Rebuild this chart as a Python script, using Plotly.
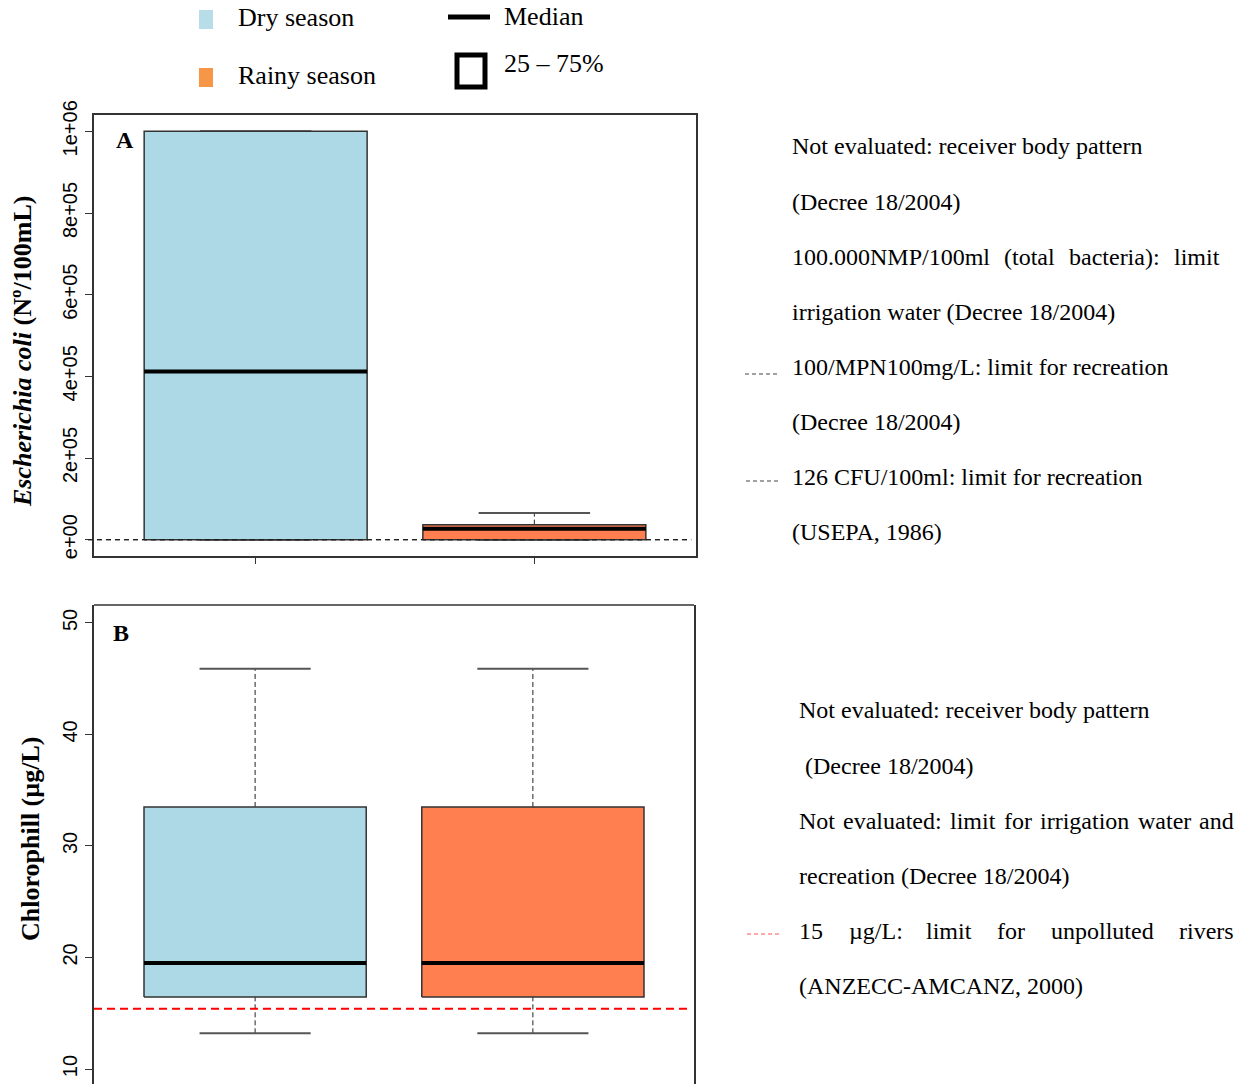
import plotly.graph_objects as go

W, H = 1238, 1084

# ---------------- data ----------------
categories = ["Dry season", "Rainy season"]
positions = [1, 2]
box_colors = ["#ADD8E6", "#FF7F50"]

# Panel A: Escherichia coli (Nº/100mL)
ecoli_lower = [0, 0]
ecoli_q1 = [0, 0]
ecoli_median = [412000, 27000]
ecoli_q3 = [1000000, 36800]
ecoli_upper = [1000000, 65500]
ecoli_limits = [100, 126]
ecoli_tickvals = [0, 200000, 400000, 600000, 800000, 1000000]
ecoli_ticktext = ["e+00", "2e+05", "4e+05", "6e+05", "8e+05", "1e+06"]

# Panel B: Chlorophill (µg/L)
chl_lower = [13.2, 13.2]
chl_q1 = [16.45, 16.45]
chl_median = [19.5, 19.5]
chl_q3 = [33.5, 33.5]
chl_upper = [45.9, 45.9]
chl_limit = [15.4]
chl_tickvals = [10, 20, 30, 40, 50]
chl_ticktext = ["10", "20", "30", "40", "50"]

SERIF = "Liberation Serif, Times New Roman, serif"
SANS = "Liberation Sans, Arial, sans-serif"


def px_x(p):
    return p / W


def px_y(p):
    return 1 - p / H


fig = go.Figure()


def add_boxes(xa, ya, lower, q1, med, q3, upper):
    for i, p in enumerate(positions):
        common = dict(xaxis=xa, yaxis=ya, mode="lines", showlegend=False, hoverinfo="skip")
        # whiskers (dashed)
        fig.add_trace(go.Scatter(x=[p, p], y=[q3[i], upper[i]],
                                 line=dict(color="#222", width=1, dash="5px,3px"), **common))
        fig.add_trace(go.Scatter(x=[p, p], y=[lower[i], q1[i]],
                                 line=dict(color="#222", width=1, dash="5px,3px"), **common))
        # caps
        fig.add_trace(go.Scatter(x=[p - 0.2, p + 0.2], y=[upper[i], upper[i]],
                                 line=dict(color="#555", width=2), **common))
        fig.add_trace(go.Scatter(x=[p - 0.2, p + 0.2], y=[lower[i], lower[i]],
                                 line=dict(color="#555", width=2), **common))
        # box
        fig.add_trace(go.Scatter(x=[p - 0.4, p + 0.4, p + 0.4, p - 0.4, p - 0.4],
                                 y=[q1[i], q1[i], q3[i], q3[i], q1[i]],
                                 fill="toself", fillcolor=box_colors[i],
                                 line=dict(color="#333", width=1.5), name=categories[i],
                                 xaxis=xa, yaxis=ya, mode="lines", showlegend=False,
                                 hoverinfo="skip"))
        # median
        fig.add_trace(go.Scatter(x=[p - 0.4, p + 0.4], y=[med[i], med[i]],
                                 line=dict(color="black", width=4), **common))


add_boxes("x", "y", ecoli_lower, ecoli_q1, ecoli_median, ecoli_q3, ecoli_upper)
add_boxes("x2", "y2", chl_lower, chl_q1, chl_median, chl_q3, chl_upper)

shapes = []
# threshold lines
for v in ecoli_limits:
    shapes.append(dict(type="line", xref="x domain", yref="y", x0=-0.01, x1=0.992, y0=v, y1=v,
                       line=dict(color="#222", width=1.2, dash="5px,4px")))
for v in chl_limit:
    shapes.append(dict(type="line", xref="x2 domain", yref="y2", x0=0.0, x1=0.99, y0=v, y1=v,
                       line=dict(color="#FF0000", width=2, dash="8px,5px")))
# top frame line of panel B
shapes.append(dict(type="line", xref="x2 domain", yref="y2 domain", x0=0, x1=1, y0=1, y1=1,
                   line=dict(color="#333", width=1.5)))

# legend symbols
shapes.append(dict(type="rect", xref="paper", yref="paper",
                   x0=px_x(199), x1=px_x(213), y0=px_y(29), y1=px_y(10),
                   fillcolor="#B7DDE8", line=dict(width=0)))
shapes.append(dict(type="rect", xref="paper", yref="paper",
                   x0=px_x(199), x1=px_x(213), y0=px_y(87), y1=px_y(68),
                   fillcolor="#F79646", line=dict(width=0)))
shapes.append(dict(type="line", xref="paper", yref="paper",
                   x0=px_x(448), x1=px_x(490), y0=px_y(17), y1=px_y(17),
                   line=dict(color="black", width=5)))
shapes.append(dict(type="rect", xref="paper", yref="paper",
                   x0=px_x(457), x1=px_x(485), y0=px_y(87), y1=px_y(55),
                   fillcolor="rgba(0,0,0,0)", line=dict(color="black", width=5)))
# legend dash markers on the right
shapes.append(dict(type="line", xref="paper", yref="paper", x0=px_x(745), x1=px_x(777),
                   y0=px_y(374), y1=px_y(374), line=dict(color="#444", width=1.2, dash="4px,3px")))
shapes.append(dict(type="line", xref="paper", yref="paper", x0=px_x(746), x1=px_x(778),
                   y0=px_y(481), y1=px_y(481), line=dict(color="#444", width=1.2, dash="4px,3px")))
shapes.append(dict(type="line", xref="paper", yref="paper", x0=px_x(747), x1=px_x(779),
                   y0=px_y(934), y1=px_y(934), line=dict(color="#FF5555", width=1.2, dash="4px,3px")))

annotations = []


def txt(x, y, s, size=24, anchor="left", angle=0, font=SERIF):
    annotations.append(dict(x=px_x(x), y=px_y(y), xref="paper", yref="paper", text=s,
                            showarrow=False, xanchor=anchor, yanchor="middle",
                            textangle=angle, font=dict(family=font, size=size, color="black")))


# legend texts
txt(236, 18, "Dry season", 26)
txt(236, 75, "Rainy season", 26)
txt(502, 17, "Median", 26)
txt(502, 64, "25 – 75%", 26)

# panel labels
txt(114, 140, "<b>A</b>", 24)
txt(111, 633, "<b>B</b>", 24)

# axis titles
txt(22, 352, "<b><i>Escherichia coli</i> (Nº/100mL)</b>", 26, anchor="center", angle=-90)
txt(30, 839, "<b>Chlorophill (µg/L)</b>", 26, anchor="center", angle=-90)

# right-hand notes, panel A
txt(790, 146, "Not evaluated: receiver body pattern")
txt(790, 202, "(Decree 18/2004)")
for x, w in [(790, "100.000NMP/100ml"), (1002, "(total"), (1067, "bacteria):"), (1172, "limit")]:
    txt(x, 257, w)
txt(790, 312, "irrigation water (Decree 18/2004)")
txt(790, 367, "100/MPN100mg/L: limit for recreation")
txt(790, 422, "(Decree 18/2004)")
txt(790, 477, "126 CFU/100ml: limit for recreation")
txt(790, 532, "(USEPA, 1986)")

# right-hand notes, panel B
txt(797, 710, "Not evaluated: receiver body pattern")
txt(803, 766, "(Decree 18/2004)")
for x, w in [(797, "Not"), (841, "evaluated:"), (948, "limit"), (1002, "for"),
             (1038, "irrigation"), (1136, "water"), (1197, "and")]:
    txt(x, 821, w)
txt(797, 876, "recreation (Decree 18/2004)")
for x, w in [(797, "15"), (847, "µg/L:"), (924, "limit"), (995, "for"),
             (1049, "unpolluted"), (1177, "rivers")]:
    txt(x, 931, w)
txt(797, 986, "(ANZECC-AMCANZ, 2000)")

axis_common = dict(showgrid=False, zeroline=False, linecolor="#333", linewidth=1.5,
                   ticks="outside", tickcolor="#333", tickwidth=1.2, automargin=False,
                   tickfont=dict(family=SANS, size=20, color="black"))
xaxis_common = {k: v for k, v in axis_common.items() if k != "tickfont"}

fig.update_layout(
    width=W, height=H,
    margin=dict(l=0, r=0, t=0, b=0, pad=0, autoexpand=False),
    paper_bgcolor="white", plot_bgcolor="white",
    showlegend=False,
    xaxis=dict(domain=[px_x(94), px_x(696)], anchor="y", range=[0.42, 2.58],
               tickvals=positions, ticktext=["", ""], ticklen=6, showline=True, mirror=True,
               **xaxis_common),
    yaxis=dict(domain=[px_y(556), px_y(115)], anchor="x", range=[-40000, 1040000],
               tickvals=ecoli_tickvals, ticktext=ecoli_ticktext, tickangle=-90, ticklen=7,
               showline=True, mirror=True, **axis_common),
    xaxis2=dict(domain=[px_x(94), px_x(694)], anchor="y2", range=[0.42, 2.58],
                tickvals=positions, ticktext=["", ""], ticklen=6, showline=False,
                **xaxis_common),
    yaxis2=dict(domain=[0, px_y(605)], anchor="x2", range=[10 - 15 / 11.15, 51.61],
                tickvals=chl_tickvals, ticktext=chl_ticktext, tickangle=-90, ticklen=7,
                showline=True, mirror=True, **axis_common),
    shapes=shapes,
    annotations=annotations,
)

fig.write_html("out.html")
